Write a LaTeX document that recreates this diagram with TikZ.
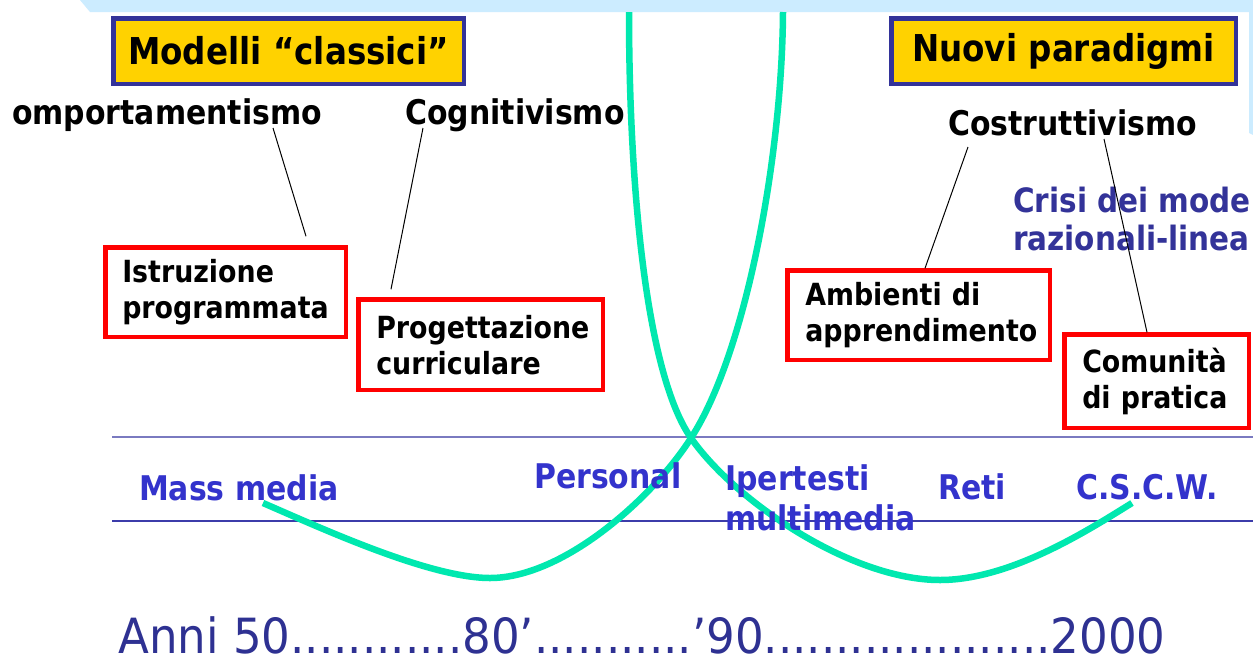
\documentclass[tikz,border=0pt]{standalone}
\usepackage{fontspec}
\setmainfont{DejaVu Sans}
\newfontfamily\lblfont{DejaVu Sans}[FakeStretch=0.88]
\newfontfamily\annifont{DejaVu Sans}[FakeStretch=0.93]
\usetikzlibrary{calc}
\definecolor{bandblue}{RGB}{204,236,255}
\definecolor{navy}{RGB}{51,51,153}
\definecolor{gold}{RGB}{255,210,0}
\definecolor{lblue}{RGB}{51,51,204}
\definecolor{darkblue}{RGB}{51,51,153}
\definecolor{anniblue}{RGB}{46,49,146}
\definecolor{turq}{RGB}{0,232,175}
\definecolor{boxred}{RGB}{255,0,0}
\definecolor{lineA}{RGB}{122,122,192}
\definecolor{lineB}{RGB}{60,60,170}
\tikzset{
  titlebox/.style={draw=navy, fill=gold, line width=4.5pt, inner sep=0pt, text=black,
    font=\lblfont\bfseries\fontsize{37}{44}\selectfont},
  redbox/.style={draw=boxred, fill=white, line width=4.5pt, anchor=north west, align=left,
    inner ysep=0pt, text=black,
    font=\lblfont\bfseries\fontsize{30.5}{36}\selectfont},
  blk/.style={anchor=base west, inner sep=0pt, text=black,
    font=\lblfont\bfseries\fontsize{34}{40}\selectfont},
  blu/.style={blk, text=lblue},
  crisi/.style={blk, text=darkblue, font=\lblfont\bfseries\fontsize{33.5}{40}\selectfont},
  conn/.style={draw=black, line width=1pt},
  wave/.style={draw=turq, line width=6.5pt},
}
\begin{document}
\begin{tikzpicture}[x=1pt,y=-1pt]
\useasboundingbox (0,0) rectangle (1253,662);
\fill[white] (0,0) rectangle (1253,662);
% top band
\fill[bandblue] (80,0) -- (1253,0) -- (1253,135) -- (1249,133) -- (1249,12) -- (90,12) -- cycle;
% horizontal lines
\draw[lineA, line width=2pt] (112,437) -- (1253,437);
\draw[lineB, line width=2pt] (112,521) -- (1253,521);
% green curves
\draw[wave] (263,503) .. controls (323,529) and (430,578) .. (490,578)
  .. controls (565,578) and (655,495) .. (691,438)
  .. controls (745,355) and (782,160) .. (783,12);
\draw[wave] (629,12) .. controls (629,180) and (645,372) .. (691,438)
  .. controls (734,500) and (850,580) .. (940,580)
  .. controls (1010,580) and (1087,531) .. (1132,503);
% title boxes
\node[titlebox, minimum width=350.5pt, minimum height=65.5pt] (mod) at (288.5,51) {Modelli “classici”};
\node[titlebox, minimum width=344.5pt, minimum height=65.5pt] (nuovi) at (1063.5,51) {Nuovi paradigmi};
% labels
\node[blk] (comp) at (12,124) {omportamentismo};
\node[blk] (cogn) at (405,124) {Cognitivismo};
\node[blk] (costr) at (948,135) {Costruttivismo};
\node[crisi] (crisiA) at (1013,212) {Crisi dei mode};
\node[crisi] (crisiB) at (1013,250) {razionali-linea};
% red boxes
\node[redbox, minimum width=240.5pt, minimum height=89.5pt, text width=207pt, inner xsep=16.75pt] (istr) at (103.25,245.25) {\mbox{Istruzione}\\\mbox{programmata}};
\node[redbox, minimum width=244.5pt, minimum height=90.5pt, text width=209pt, inner xsep=17.75pt] (prog) at (356.25,297.25) {\mbox{Progettazione}\\\mbox{curriculare}};
\node[redbox, minimum width=262.5pt, minimum height=89.5pt, text width=227pt, inner xsep=17.75pt] (amb) at (785.25,268.25) {\mbox{Ambienti di}\\\mbox{apprendimento}};
\node[redbox, minimum width=184.5pt, minimum height=93.5pt, text width=149pt, inner xsep=17.75pt] (comu) at (1062.25,332.25) {\mbox{Comunità}\\\mbox{di pratica}};
% timeline labels
\node[blu] (mass) at (139,500) {Mass media};
\node[blu] (pers) at (534,488) {Personal};
\node[blu] (iper) at (725,490) {Ipertesti};
\node[blu] (multi) at (725,530) {multimedia};
\node[blu] (reti) at (938,499) {Reti};
\node[blu] (cscw) at (1076,499) {C.S.C.W.};
% years
\node[anchor=base west, inner sep=0pt, text depth=0pt, text=anniblue, font=\annifont\fontsize{48.5}{56}\selectfont] (anni) at (118,653) {Anni 50............80’...........’90....................2000};
% connectors
\draw[conn] ($(comp.base -| 273,0)+(0,4)$) -- ($(istr.north -| 306,0)+(0,-9)$);
\draw[conn] ($(cogn.base -| 423,0)+(0,4)$) -- ($(prog.north -| 391,0)+(0,-8)$);
\draw[conn] ($(costr.base -| 968,0)+(0,12)$) -- (amb.north -| 925,0);
\draw[conn] ($(costr.base -| 1104,0)+(0,4)$) -- (comu.north -| 1147,0);
\end{tikzpicture}
\end{document}
